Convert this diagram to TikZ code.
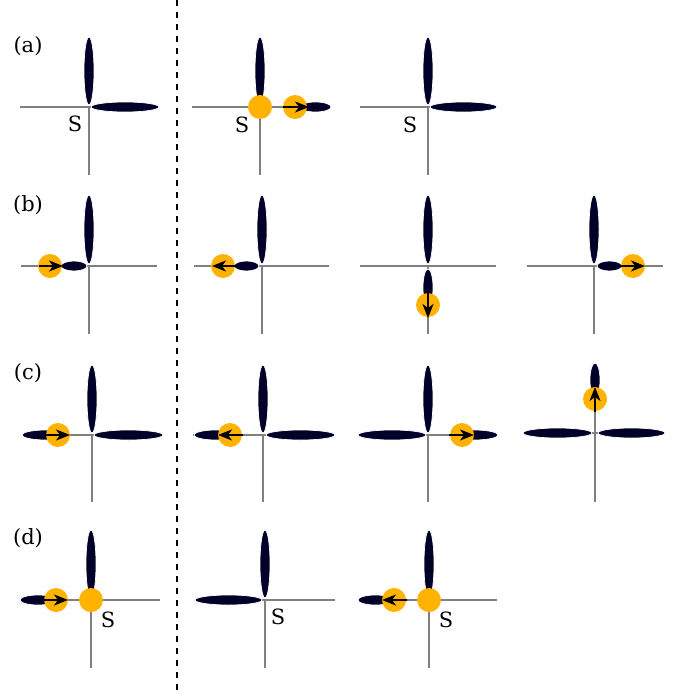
\documentclass[tikz,border=0pt]{standalone}
\usepackage{fontspec}
\setmainfont{DejaVu Serif}
\usetikzlibrary{arrows.meta,calc}
\definecolor{lobecol}{HTML}{000028}
\definecolor{orb}{HTML}{FFB300}
\definecolor{axgray}{HTML}{808080}
\tikzset{
  lobe/.style={fill=lobecol,draw=white,line width=0.7pt},
  axisline/.style={draw=axgray,line width=2.5pt},
  orbit/.style={circle,fill=orb,inner sep=0pt,minimum size=24pt},
  mover/.style={draw=black,line width=1.7pt,-{Stealth[length=14pt,width=11pt,inset=4pt]}},
  lbl/.style={font=\fontsize{21}{24}\selectfont,inner sep=0pt},
}
\newcommand\mylobe[4]{%
  \begin{scope}[shift={(#1)},rotate=#2]
    \filldraw[lobe] ({(#3+#4)/2*1pt},0pt) ellipse [x radius={(#4-#3)/2*1pt}, y radius=5pt];
  \end{scope}}
\newcommand\myaxes[4]{% center, left, right, down
  \draw[axisline] ($(#1)+(-#2,0)$) -- ($(#1)+(#3,0)$);
  \draw[axisline] (#1) -- ($(#1)+(0,#4)$);}
\begin{document}
\begin{tikzpicture}[x=1pt,y=-1pt]
\useasboundingbox (0,0) rectangle (681,696);
\draw[black,line width=1.4pt,dash pattern=on 6pt off 6pt] (177,0) -- (177,696);
% labels
\node[lbl] (la) at (28,46) {(a)};
\node[lbl] (lb) at (28,205) {(b)};
\node[lbl] (lc) at (28,373) {(c)};
\node[lbl] (ld) at (28,538) {(d)};
% centres
\coordinate (a1) at (89,107);
\coordinate (a2) at (260,107);
\coordinate (a3) at (428,107);
\coordinate (b1) at (89,266);
\coordinate (b2) at (262,266);
\coordinate (b3) at (428,266);
\coordinate (b4) at (594,266);
\coordinate (c1) at (92,435);
\coordinate (c2) at (263,435);
\coordinate (c3) at (428,435);
\coordinate (c4) at (595,433);
\coordinate (d1) at (91,600);
\coordinate (d2) at (265,600);
\coordinate (d3) at (429,600);
% ---- row a
\myaxes{a1}{69}{70}{68}
\mylobe{a1}{90}{2}{70}
\mylobe{a1}{0}{2}{70}
\node[lbl] (sa1) at (75,124) {S};
\myaxes{a2}{68}{70}{68}
\mylobe{a2}{90}{2}{70}
\mylobe{a2}{0}{40}{71}
\node[orbit] (oa2s) at (a2) {};
\node[orbit] (oa2) at (295,107) {};
\coordinate (ta2) at (283,107); \coordinate (ha2) at (309,107);
\draw[mover] (ta2) -- (ha2);
\node[lbl] (sa2) at (242,125) {S};
\myaxes{a3}{68}{69}{68}
\mylobe{a3}{90}{2}{70}
\mylobe{a3}{0}{2}{69}
\node[lbl] (sa3) at (410,125) {S};
% ---- row b
\myaxes{b1}{68}{68}{68}
\mylobe{b1}{90}{2}{71}
\mylobe{b1}{180}{2}{28}
\node[orbit] (ob1) at (50,266) {};
\coordinate (tb1) at (39,266); \coordinate (hb1) at (63,266);
\draw[mover] (tb1) -- (hb1);
\myaxes{b2}{68}{67}{68}
\mylobe{b2}{90}{2}{71}
\mylobe{b2}{180}{3}{28}
\node[orbit] (ob2) at (223,266) {};
\coordinate (tb2) at (236,266); \coordinate (hb2) at (212,266);
\draw[mover] (tb2) -- (hb2);
\myaxes{b3}{68}{68}{68}
\mylobe{b3}{90}{2}{71}
\mylobe{b3}{270}{3}{40}
\node[orbit] (ob3) at (428,305) {};
\coordinate (tb3) at (428,292); \coordinate (hb3) at (428,318);
\draw[mover] (tb3) -- (hb3);
\myaxes{b4}{67}{69}{68}
\mylobe{b4}{90}{2}{71}
\mylobe{b4}{0}{3}{28}
\node[orbit] (ob4) at (633,266) {};
\coordinate (tb4) at (620,266); \coordinate (hb4) at (645,266);
\draw[mover] (tb4) -- (hb4);
% ---- row c
\myaxes{c1}{70}{70}{67}
\mylobe{c1}{90}{2}{70}
\mylobe{c1}{0}{2}{71}
\mylobe{c1}{180}{22}{70}
\node[orbit] (oc1) at (58,435) {};
\coordinate (tc1) at (46,435); \coordinate (hc1) at (70,435);
\draw[mover] (tc1) -- (hc1);
\myaxes{c2}{70}{70}{67}
\mylobe{c2}{90}{2}{70}
\mylobe{c2}{0}{3}{72}
\mylobe{c2}{180}{25}{69}
\node[orbit] (oc2) at (230,435) {};
\coordinate (tc2) at (243,435); \coordinate (hc2) at (218,435);
\draw[mover] (tc2) -- (hc2);
\myaxes{c3}{70}{70}{67}
\mylobe{c3}{90}{2}{70}
\mylobe{c3}{180}{2}{70}
\mylobe{c3}{0}{22}{70}
\node[orbit] (oc3) at (462,435) {};
\coordinate (tc3) at (449,435); \coordinate (hc3) at (474,435);
\draw[mover] (tc3) -- (hc3);
\myaxes{c4}{70}{70}{69}
\draw[axisline] (c4) -- ($(c4)+(0,-40)$);
\mylobe{c4}{180}{3}{72}
\mylobe{c4}{0}{3}{70}
\mylobe{c4}{90}{36}{70}
\node[orbit] (oc4) at (595,399) {};
\coordinate (tc4) at (595,412); \coordinate (hc4) at (595,387);
\draw[mover] (tc4) -- (hc4);
% ---- row d
\myaxes{d1}{71}{69}{68}
\mylobe{d1}{90}{2}{70}
\mylobe{d1}{180}{35}{71}
\node[orbit] (od1s) at (d1) {};
\node[orbit] (od1) at (56,600) {};
\coordinate (td1) at (44,600); \coordinate (hd1) at (68,600);
\draw[mover] (td1) -- (hd1);
\node[lbl] (sd1) at (108,620) {S};
\myaxes{d2}{70}{70}{68}
\mylobe{d2}{90}{2}{70}
\mylobe{d2}{180}{3}{70}
\node[lbl] (sd2) at (278,617) {S};
\myaxes{d3}{71}{68}{68}
\mylobe{d3}{90}{2}{70}
\mylobe{d3}{180}{36}{71}
\node[orbit] (od3s) at (d3) {};
\node[orbit] (od3) at (394,600) {};
\coordinate (td3) at (407,600); \coordinate (hd3) at (382,600);
\draw[mover] (td3) -- (hd3);
\node[lbl] (sd3) at (446,620) {S};
\end{tikzpicture}
\end{document}
